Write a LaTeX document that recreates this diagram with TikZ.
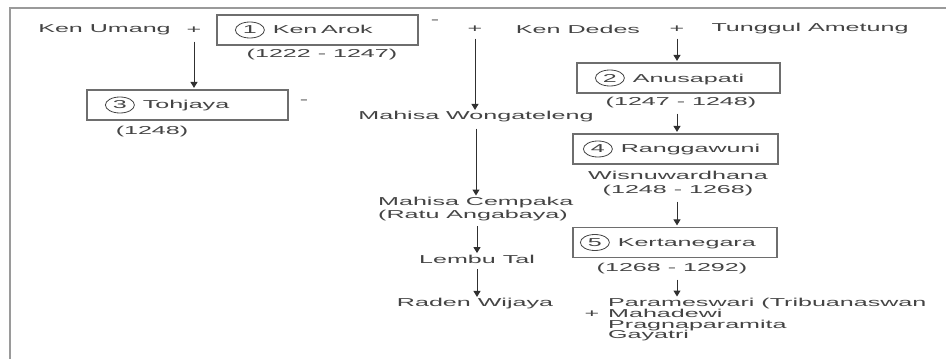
\documentclass[tikz,border=0pt]{standalone}
\usepackage{fontspec}
\setmainfont{Liberation Sans}[FakeStretch=2.18]
\usetikzlibrary{shapes.geometric,arrows.meta}
\definecolor{txt}{HTML}{444444}
\definecolor{boxc}{HTML}{6E6E6E}
\definecolor{arrc}{HTML}{303030}
\definecolor{framec}{HTML}{9A9A9A}
\newcommand{\cnum}[1]{\tikz[baseline=(cn.base)]\node[draw=txt,line width=0.8pt,ellipse,inner sep=0pt,minimum width=29pt,minimum height=16pt,text=txt](cn){#1};\hspace{8pt}}
\begin{document}
\begin{tikzpicture}[x=1pt,y=-1pt,
  every node/.style={font=\fontsize{11.5}{12}\selectfont, text=txt, inner sep=0pt},
  kbox/.style={draw=boxc, line width=1.2pt, minimum height=30pt, align=left},
  arr/.style={draw=arrc, line width=1pt, shorten >=1.5pt, -{Triangle[length=6pt,width=7pt]}},
  lbl/.style={align=center}]
\useasboundingbox (0,0) rectangle (946,359);
\fill[white] (0,0) rectangle (946,359);
\draw[framec, line width=2pt] (946,8) -- (10,8) -- (10,359);

% top row
\node (umang) at (104.5,30) {Ken Umang};
\node (plusA) at (194,30) {+};
\node[kbox, inner xsep=18pt, text width=165pt] (arok) at (317.5,30) {\cnum{1}Ken Arok};
\node (dashA) at (435,22) {-};
\node (plusB) at (475,29) {+};
\node (dedes) at (578,29) {Ken Dedes};
\node (plusC) at (677,29) {+};
\node (tunggul) at (810,29) {Tunggul Ametung};
\node (arokY) at (322,55) {(1222 - 1247)};

% left column
\node[kbox, inner xsep=18pt, text width=165pt] (toh) at (187.5,105) {\cnum{3}Tohjaya};
\node (dashB) at (304,102) {-};
\node (tohY) at (152,132) {(1248)};

% middle column
\node (mw) at (476,117) {Mahisa Wongateleng};
\node[align=left, anchor=north west, font=\fontsize{11.5}{13}\selectfont] (mc) at (378,197) {Mahisa Cempaka\\(Ratu Angabaya)};
\node (lt) at (477,259) {Lembu Tal};
\node (rw) at (475,304) {Raden Wijaya};

% right column
\node[kbox, inner xsep=18pt, text width=167pt] (anus) at (678.5,78) {\cnum{2}Anusapati};
\node (anusY) at (681,103) {(1247 - 1248)};
\node[kbox, inner xsep=10pt, text width=185pt] (rang) at (675.5,149) {\cnum{4}Ranggawuni};
\node[lbl, font=\fontsize{11.5}{14}\selectfont] (wisn) at (678,184) {Wisnuwardhana\\(1248 - 1268)};
\node[kbox, inner xsep=7pt, text width=190pt] (kert) at (675,242.5) {\cnum{5}Kertanegara};
\node (kertY) at (672,269) {(1268 - 1292)};
\node (plusD) at (592,314) {+};
\node[align=left, anchor=north west, font=\fontsize{11.5}{10.8}\selectfont] (wives) at (608,298) {Parameswari (Tribuanaswan\\Mahadewi\\Pragnaparamita\\Gayatri};

% arrows
\draw[arr] ([yshift=-8pt]plusA.south) -- (plusA |- toh.north);
\draw[arr] ([yshift=-6pt]plusB.south) -- (plusB |- mw.north);
\draw[arr] ([yshift=-6pt]mw.south) -- (mw.south |- mc.north);
\draw[arr] ([yshift=-5pt]mc.south -| lt) -- (lt.north);
\draw[arr] ([yshift=-6pt]lt.south) -- (lt.south |- rw.north);
\draw[arr] ([yshift=-6pt]plusC.south) -- (plusC |- anus.north);
\draw[arr] ([yshift=-5pt]plusC |- anusY.south) -- (plusC |- rang.north);
\draw[arr] ([yshift=-5pt]plusC |- wisn.south) -- (plusC |- kert.north);
\draw[arr] ([yshift=-5pt]plusC |- kertY.south) -- (plusC |- wives.north);
\end{tikzpicture}
\end{document}
